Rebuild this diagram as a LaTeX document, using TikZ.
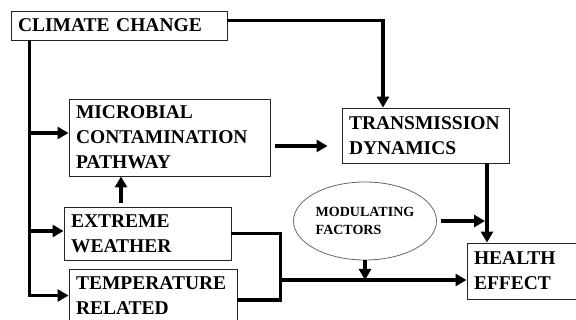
\documentclass[tikz,border=0pt]{standalone}
\usepackage{fontspec}
\setmainfont{Liberation Serif}
\usetikzlibrary{arrows.meta,shapes.geometric}
\begin{document}
\begin{tikzpicture}[x=1pt,y=-1pt,font=\fontsize{19.5}{25}\selectfont\bfseries,
	line join=miter,>={Triangle[length=11pt,width=12pt]},
	box/.style={draw=black!85,line width=0.9pt,rectangle,align=left,inner xsep=7pt,inner ysep=0pt},
	flow/.style={line width=3.6pt,->}]
\useasboundingbox (0,0) rectangle (576,320);
\node[box,minimum width=216pt,minimum height=29pt,text width=202pt] (cc) at (119,25.5) {CLIMATE CHANGE};
\node[box,minimum width=201pt,minimum height=77pt,text width=187pt] (mcp) at (169.5,137.5) {MICROBIAL\\CONTAMINATION\\PATHWAY};
\node[box,minimum width=167pt,minimum height=55pt,text width=153pt] (td) at (425.5,135.5) {TRANSMISSION\\DYNAMICS};
\node[box,minimum width=167pt,minimum height=53pt,text width=153pt] (ew) at (147.5,233.5) {EXTREME\\WEATHER};
\node[box,minimum width=168pt,minimum height=53pt,text width=154pt] (tr) at (153,295.5) {TEMPERATURE\\RELATED};
\node[box,minimum width=125pt,minimum height=56pt,text width=111pt] (he) at (529.5,271) {HEALTH\\EFFECT};
\node[ellipse,draw=black!60,line width=0.8pt,minimum width=143pt,minimum height=78pt,inner sep=0pt,
	align=left,font=\fontsize{14}{18}\selectfont\bfseries] (mf) at (365,221) {MODULATING\\FACTORS};
% climate change links
\draw[flow] ([yshift=5pt]cc.east) -| ([xshift=-42.5pt]td.north);
\coordinate (trunk) at ([xshift=19pt]cc.south west);
\coordinate (mcpin) at ([yshift=4.5pt]mcp.west);
\coordinate (ewin) at ([yshift=2.5pt]ew.west);
\draw[flow] (trunk) |- (tr.west);
\draw[flow] (trunk |- mcpin) -- (mcpin);
\draw[flow] (trunk |- ewin) -- (ewin);
% pathways
\coordinate (ewup) at ([xshift=-26.5pt]ew.north);
\draw[flow,shorten <=4pt] (ewup) -- (ewup |- mcp.south);
\coordinate (mcpout) at ([yshift=-8.5pt]mcp.east);
\draw[flow,shorten <=5pt,shorten >=14pt] (mcpout) -- (mcpout -| td.west);
\coordinate (jn) at ([xshift=49pt]ew.east);
\coordinate (trout) at ([yshift=-4.5pt]tr.east);
\draw[line width=3.6pt] (ew.east) -| (jn |- trout) -- (trout);
\coordinate (hein) at ([yshift=-9pt]he.west);
\draw[flow] (jn |- hein) -- (hein);
\draw[flow] (mf.south) -- (mf.south |- hein);
% to health effect
\coordinate (tdout) at ([xshift=61.5pt]td.south);
\draw[flow] (tdout) -- (tdout |- he.north);
\draw[flow,shorten <=4pt,shorten >=2pt] (mf.east) -- (mf.east -| tdout);
\end{tikzpicture}
\end{document}
